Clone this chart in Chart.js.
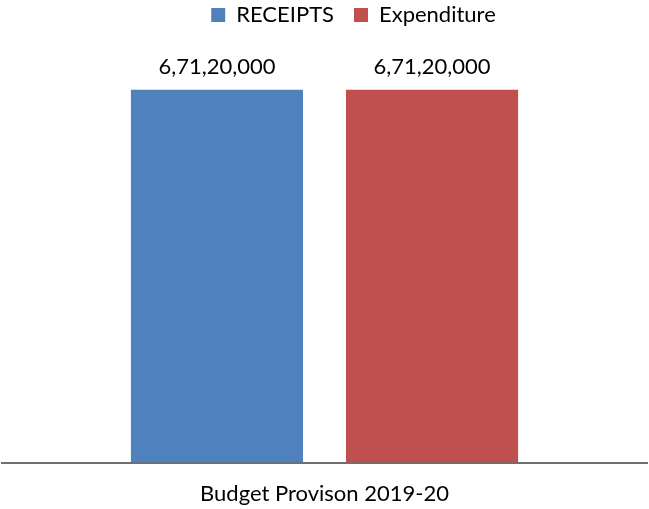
<!DOCTYPE html>
<html>
<head>
<meta charset="utf-8">
<style>
  html, body { margin: 0; padding: 0; background: #ffffff; }
  #wrap { width: 649px; height: 509px; }
</style>
<script src="https://cdn.jsdelivr.net/npm/chart.js@4/dist/chart.umd.min.js"></script>
</head>
<body>
<div id="wrap"><canvas id="chart" width="649" height="509"></canvas></div>
<script>
const categories = ["Budget Provison 2019-20"];
const receipts = [67120000];
const expenditure = [67120000];
const seriesNames = ["RECEIPTS", "Expenditure"];

const FONT = "Lato, 'Open Sans', sans-serif";

// Indian digit grouping: 6,71,20,000
function formatIndian(n) {
  const s = String(Math.round(n));
  if (s.length <= 3) return s;
  const last3 = s.slice(-3);
  let rest = s.slice(0, -3);
  const parts = [];
  while (rest.length > 2) {
    parts.unshift(rest.slice(-2));
    rest = rest.slice(0, -2);
  }
  if (rest) parts.unshift(rest);
  return parts.join(",") + "," + last3;
}

// Value labels above each bar
const valueLabels = {
  id: "valueLabels",
  afterDatasetsDraw(chart) {
    const ctx = chart.ctx;
    ctx.save();
    ctx.font = "22px " + FONT;
    ctx.fillStyle = "#000000";
    ctx.textAlign = "center";
    ctx.textBaseline = "bottom";
    chart.data.datasets.forEach((ds, i) => {
      chart.getDatasetMeta(i).data.forEach((bar, j) => {
        ctx.fillText(formatIndian(ds.data[j]), bar.x, bar.y - 12);
      });
    });
    ctx.restore();
  }
};

// Nudge the legend a little right of centre
const legendOffset = {
  id: "legendOffset",
  afterLayout(chart) {
    if (chart.legend) {
      chart.legend.left += 29;
      chart.legend.right += 29;
    }
  }
};

new Chart(document.getElementById("chart"), {
  type: "bar",
  data: {
    labels: categories,
    datasets: [
      { label: seriesNames[0], data: receipts, backgroundColor: "#4f81bd" },
      { label: seriesNames[1], data: expenditure, backgroundColor: "#c0504d" }
    ]
  },
  options: {
    responsive: false,
    animation: false,
    devicePixelRatio: 1,
    layout: { padding: { left: 2, right: 2, top: -16, bottom: -16 } },
    datasets: { bar: { categoryPercentage: 0.667, barPercentage: 0.8 } },
    plugins: {
      legend: {
        position: "top",
        labels: {
          boxWidth: 14,
          boxHeight: 14,
          padding: 20,
          color: "#000000",
          font: { family: FONT, size: 22 }
        }
      },
      tooltip: { enabled: false }
    },
    scales: {
      x: {
        grid: { display: false, drawTicks: false },
        border: { display: true, color: "#6f6f6f", width: 2 },
        ticks: { color: "#000000", padding: 18, font: { family: FONT, size: 22 } }
      },
      y: {
        display: false,
        min: 0,
        max: 76800000
      }
    }
  },
  plugins: [valueLabels, legendOffset]
});
</script>
</body>
</html>
